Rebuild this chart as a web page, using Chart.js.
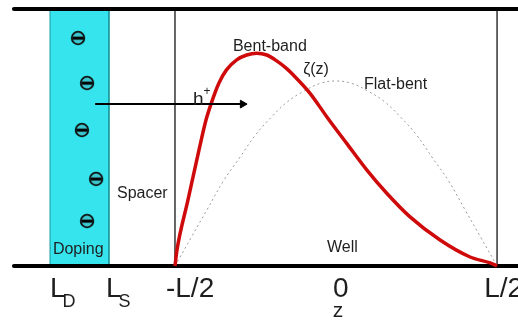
<!DOCTYPE html>
<html>
<head>
<meta charset="utf-8">
<script src="https://cdn.jsdelivr.net/npm/chart.js@4"></script>
<style>
  body { margin: 0; background: #fff; }
  canvas { display: block; }
</style>
</head>
<body>
<canvas id="chart" width="518" height="322"></canvas>
<script>
// z in units of the well width L, energy normalised to the barrier height
const bentX = [-0.5, -0.4938, -0.4596, -0.4255, -0.4037, -0.3882, -0.3634, -0.3401, -0.3084, -0.2773, -0.2463, -0.2152, -0.1842, -0.1531, -0.1326, -0.0807, -0.0289, 0.0332, 0.0953, 0.1575, 0.2298, 0.323, 0.4161, 0.4783, 0.5]
const bentY = [0, 0.062, 0.257, 0.451, 0.568, 0.63, 0.712, 0.763, 0.802, 0.821, 0.828, 0.821, 0.798, 0.768, 0.743, 0.672, 0.581, 0.477, 0.374, 0.283, 0.191, 0.101, 0.035, 0.012, 0]

const flatX = [-0.5, -0.45, -0.4, -0.35, -0.3, -0.25, -0.2, -0.15, -0.1, -0.05, 0, 0.05, 0.1, 0.15, 0.2, 0.25, 0.3, 0.35, 0.4, 0.45, 0.5]
const flatY = [0, 0.11, 0.22, 0.33, 0.42, 0.51, 0.58, 0.64, 0.68, 0.71, 0.72, 0.71, 0.68, 0.64, 0.58, 0.51, 0.42, 0.33, 0.22, 0.11, 0]

// layer boundaries
const dopingStart = -0.888
const dopingEnd = -0.705
const wellEdges = [-0.5, 0.5]

// ionised donors in the doping layer
const donorX = [-0.801, -0.773, -0.789, -0.745, -0.773]
const donorY = [0.887, 0.712, 0.529, 0.339, 0.175]

// hole transfer arrow
const arrowX = [-0.748, -0.29]
const arrowY = [0.63, 0.63]

// axis labels
const tickPos = [-0.888, -0.714, -0.528, -0.009, 0.46]
const tickText = ['L', 'L', '-L/2', '0', 'L/2']
const tickSub = ['D', 'S', '', '', '']

// annotations
const noteText = ['Bent-band', 'ζ(z)', 'Flat-bent', 'Spacer', 'Doping', 'Well']
const noteX = [-0.32, -0.102, 0.087, -0.68, -0.879, -0.028]
const noteY = [0.852, 0.763, 0.704, 0.28, 0.062, 0.07]

const FONT = '"Liberation Sans", Arial, sans-serif'

function pts(xs, ys) {
    return xs.map((x, i) => ({ x: x, y: ys[i] }))
}

// minus sign in a circle
const donorIcon = document.createElement('canvas')
donorIcon.width = 16
donorIcon.height = 16
const ic = donorIcon.getContext('2d')
ic.beginPath()
ic.arc(8, 8, 6.3, 0, Math.PI * 2)
ic.fillStyle = '#3cc7cf'
ic.fill()
ic.lineWidth = 1.8
ic.strokeStyle = '#111'
ic.stroke()
ic.fillStyle = '#000'
ic.fillRect(2.5, 6.6, 11, 3)

const labelsPlugin = {
    id: 'labels',
    afterDraw(chart) {
        const ctx = chart.ctx
        const xs = chart.scales.x
        const ys = chart.scales.y
        ctx.save()
        ctx.fillStyle = '#1e1e1e'
        ctx.textAlign = 'left'

        ctx.textBaseline = 'middle'
        ctx.font = '16px ' + FONT
        noteText.forEach((t, i) => {
            ctx.fillText(t, xs.getPixelForValue(noteX[i]), ys.getPixelForValue(noteY[i]))
        })

        // h+
        const hx = xs.getPixelForValue(-0.444)
        const hy = ys.getPixelForValue(0.628)
        ctx.textBaseline = 'alphabetic'
        ctx.font = '19px ' + FONT
        ctx.fillText('h', hx, hy)
        ctx.font = '12px ' + FONT
        ctx.fillText('+', hx + 10.5, hy - 10)

        // tick labels below the well
        const base = ys.getPixelForValue(-0.12)
        tickText.forEach((t, i) => {
            const x = xs.getPixelForValue(tickPos[i])
            ctx.font = '28px ' + FONT
            ctx.fillText(t, x, base)
            if (tickSub[i]) {
                const w = ctx.measureText(t).width
                ctx.font = '18px ' + FONT
                ctx.fillText(tickSub[i], x + w - 3, base + 10)
            }
        })

        ctx.textAlign = 'center'
        ctx.font = '21px ' + FONT
        ctx.fillText('z', xs.getPixelForValue(0.006), ys.getPixelForValue(-0.2))
        ctx.restore()
    }
}

const lineDefaults = { pointRadius: 0, fill: false, tension: 0, clip: false }

new Chart(document.getElementById('chart'), {
    type: 'line',
    data: {
        datasets: [
            {
                label: 'Doping',
                data: pts([dopingStart, dopingStart, dopingEnd, dopingEnd], [0, 1, 1, 0]),
                ...lineDefaults,
                fill: 'origin',
                backgroundColor: '#35e4ec',
                borderColor: '#1c9aa0',
                borderWidth: 1,
                order: 10
            },
            {
                label: 'top',
                data: pts([-1.0, 0.6], [1, 1]),
                ...lineDefaults,
                borderColor: '#000',
                borderWidth: 4,
                borderCapStyle: 'round',
                order: 5
            },
            {
                label: 'bottom',
                data: pts([-1.0, 0.6], [0, 0]),
                ...lineDefaults,
                borderColor: '#000',
                borderWidth: 4,
                borderCapStyle: 'round',
                order: 5
            },
            {
                label: 'left wall',
                data: pts([wellEdges[0], wellEdges[0]], [0, 1]),
                ...lineDefaults,
                borderColor: '#333',
                borderWidth: 1.5,
                order: 6
            },
            {
                label: 'right wall',
                data: pts([wellEdges[1], wellEdges[1]], [0, 1]),
                ...lineDefaults,
                borderColor: '#333',
                borderWidth: 1.5,
                order: 6
            },
            {
                label: 'Flat-bent',
                data: pts(flatX, flatY),
                ...lineDefaults,
                tension: 0.4,
                borderColor: '#9a9a9a',
                borderWidth: 1,
                borderDash: [2, 3],
                order: 4
            },
            {
                label: 'Bent-band',
                data: pts(bentX, bentY),
                ...lineDefaults,
                cubicInterpolationMode: 'monotone',
                borderColor: '#cf0a0a',
                borderWidth: 3.5,
                borderJoinStyle: 'round',
                order: 1
            },
            {
                label: 'h+',
                data: pts(arrowX, arrowY),
                ...lineDefaults,
                borderColor: '#000',
                borderWidth: 2,
                pointRadius: [0, 4.5],
                pointStyle: 'triangle',
                rotation: 90,
                pointBackgroundColor: '#000',
                pointBorderColor: '#000',
                pointBorderWidth: 1,
                order: 0
            },
            {
                label: 'donors',
                data: pts(donorX, donorY),
                ...lineDefaults,
                showLine: false,
                pointStyle: donorIcon,
                pointRadius: 8,
                order: 2
            }
        ]
    },
    options: {
        responsive: false,
        animation: false,
        devicePixelRatio: 1,
        layout: { autoPadding: false, padding: { left: 12, right: 0, top: 9, bottom: 56 } },
        scales: {
            x: { type: 'linear', min: -1.006, max: 0.565, display: false },
            y: { type: 'linear', min: 0, max: 1, display: false }
        },
        plugins: {
            legend: { display: false },
            tooltip: { enabled: false }
        }
    },
    plugins: [labelsPlugin]
})
</script>
</body>
</html>
